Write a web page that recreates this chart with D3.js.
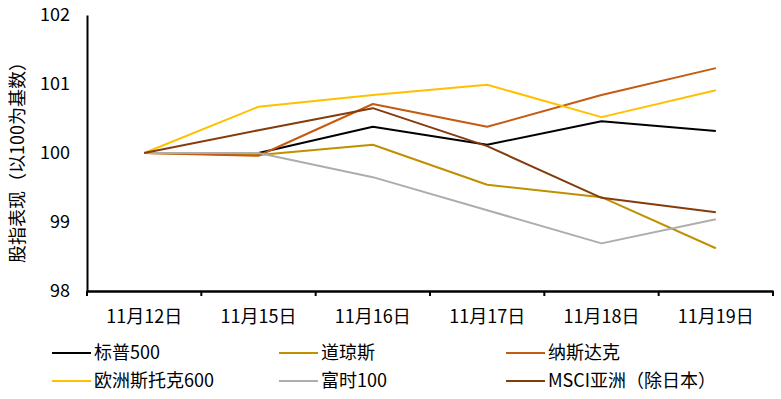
<!DOCTYPE html>
<html><head><meta charset="utf-8">
<script src="https://cdn.jsdelivr.net/npm/d3@7"></script>
<style>
html,body{margin:0;padding:0;background:#fff;}
svg text{font-family:"Noto Sans CJK SC","Noto Sans",sans-serif;fill:#000;}
</style></head>
<body>
<svg id="c" width="781" height="399"></svg>
<script>
const categories = ["11月12日","11月15日","11月16日","11月17日","11月18日","11月19日"];
const legendLabels = ["标普500","道琼斯","纳斯达克","欧洲斯托克600","富时100","MSCI亚洲（除日本）"];
const sp500   = [100, 100.00, 100.38, 100.12, 100.46, 100.32];
const dow     = [100, 99.97, 100.12, 99.54, 99.36, 98.62];
const nasdaq  = [100, 99.96, 100.71, 100.38, 100.84, 101.23];
const stoxx   = [100, 100.67, 100.84, 100.99, 100.52, 100.91];
const ftse    = [100, 100.00, 99.65, 99.17, 98.69, 99.04];
const msciAsia= [100, 100.33, 100.65, 100.10, 99.35, 99.14];
const yTicks = [98, 99, 100, 101, 102];
const colors = ["#000000","#BF9000","#C55A11","#FFC000","#ADADAD","#843C0C"];
const yTitle = "股指表现（以100为基数）";

(function(){
const allSeries = [sp500, dow, nasdaq, stoxx, ftse, msciAsia];
const svg = d3.select("#c");
const mLeft = 87, mRight = 773, mTop = 15, mBottom = 291;

const x = d3.scaleBand().domain(categories).range([mLeft, mRight]).padding(0);
const y = d3.scaleLinear().domain([98, 102]).range([mBottom, mTop]);

// y axis
const ya = svg.append("g").attr("transform", `translate(${mLeft},0)`)
  .call(d3.axisLeft(y).tickValues(yTicks).tickSize(0).tickPadding(17).tickFormat(d3.format("d")));
ya.select(".domain").attr("stroke","#000").attr("stroke-width",2);
ya.selectAll("text").attr("font-size",18).attr("font-family",'"Noto Sans CJK SC",sans-serif').attr("fill","#000");

// x axis
const xa = svg.append("g").attr("transform", `translate(0,${mBottom})`)
  .call(d3.axisBottom(x).tickSize(0).tickPadding(19));
xa.select(".domain").attr("stroke","#000").attr("stroke-width",2.5);
xa.selectAll("text").attr("font-size",18).attr("font-family",'"Noto Sans CJK SC",sans-serif').attr("fill","#000");
const bounds = categories.map(c => x(c)).concat([x(categories[categories.length-1]) + x.bandwidth()]);
xa.selectAll(".bt").data(bounds).enter().append("line").attr("class","bt")
  .attr("x1", d=>d).attr("x2", d=>d).attr("y1",0).attr("y2",5)
  .attr("stroke","#000").attr("stroke-width",2);

// y title
svg.append("text")
  .attr("transform","translate(24,158) rotate(-90)")
  .attr("text-anchor","middle")
  .attr("font-size",18)
  .text(yTitle);

// lines
const line = d3.line().x((d,i)=>x(categories[i]) + x.bandwidth()/2).y(d=>y(d));
allSeries.forEach((s,k)=>{
  svg.append("path").datum(s).attr("d", line)
    .attr("fill","none").attr("stroke", colors[k]).attr("stroke-width",2)
    .attr("stroke-linejoin","round");
});

// legend
const colX = [52, 279, 506];
const rowY = [353, 381];
legendLabels.forEach((lab,k)=>{
  const cx = colX[k%3], cy = rowY[Math.floor(k/3)];
  const g = svg.append("g");
  g.append("line").attr("x1",cx).attr("x2",cx+39).attr("y1",cy).attr("y2",cy)
    .attr("stroke",colors[k]).attr("stroke-width",2);
  g.append("text").attr("x",cx+42).attr("y",cy).attr("dy","0.35em")
    .attr("font-size",18).text(lab);
});
})();
</script>
</body></html>
